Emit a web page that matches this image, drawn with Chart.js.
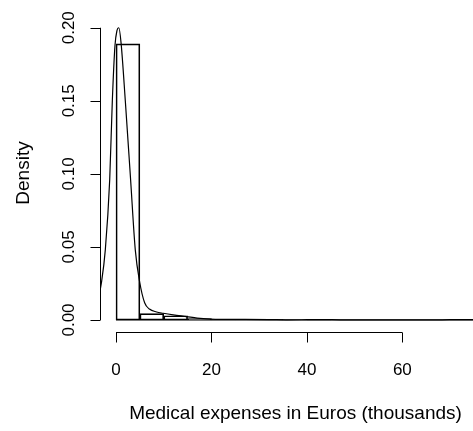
<!DOCTYPE html>
<html><head><meta charset="utf-8">
<script src="https://cdn.jsdelivr.net/npm/chart.js@4"></script>
<style>html,body{margin:0;padding:0;overflow:hidden;background:#fff;width:473px;height:431px}canvas{display:block}</style>
</head><body><canvas id="c" width="492" height="431" style="width:492px;height:431px"></canvas>
<script>
// ---- data ----
const binBreaks = [0,5,10,15,20,25,30,35,40,45,50,55,60,65,70,75];
const binDensity = [0.189,0.0044,0.0029,0.0009,0.0003,0.0003,0.0003,0,0.0003,0,0,0,0,0,0.0003];
const curveX = [-3.6,-3.08,-2.24,-1.32,-0.77,-0.21,0.2,0.6,1.05,1.95,3.04,4.04,4.96,6.0,7.0,8.5,9.9,12,14.8,17,19.7,22,27,32,36,40,43,47,55,65,70,73,76,78.6];
const curveY = [0.016,0.025,0.048,0.096,0.150,0.188,0.198,0.200,0.190,0.150,0.097,0.048,0.026,0.0118,0.0075,0.0055,0.0046,0.0035,0.0023,0.0013,0.0006,0.0004,0.0004,0.0003,0.0001,0.0002,0.0003,0.0001,0.00003,0.00003,0.0002,0.0003,0.0002,0.0001];
const xTicks = [0,20,40,60];
const xTickLabels = ['0','20','40','60'];
const yTicks = [0,0.05,0.10,0.15,0.20];
const yTickLabels = ['0.00','0.05','0.10','0.15','0.20'];
const xTitle = 'Medical expenses in Euros (thousands)';
const yTitle = 'Density';

const FONT = '"Liberation Sans", Arial, Helvetica, sans-serif';

const axesPlugin = {
  id: 'rAxes',
  afterDraw(chart) {
    const ctx = chart.ctx, xs = chart.scales.x, ys = chart.scales.y, a = chart.chartArea;
    ctx.save();
    ctx.strokeStyle = '#000'; ctx.fillStyle = '#000'; ctx.lineWidth = 1;
    // x axis
    const yAx = a.bottom - 0.5;
    const x0 = xs.getPixelForValue(xTicks[0]), x1 = xs.getPixelForValue(xTicks[xTicks.length-1]);
    ctx.beginPath();
    ctx.moveTo(x0, yAx); ctx.lineTo(x1, yAx);
    xTicks.forEach(v => { const px = Math.round(xs.getPixelForValue(v)) + 0.5; ctx.moveTo(px, yAx); ctx.lineTo(px, yAx + 10); });
    ctx.stroke();
    ctx.font = '17px ' + FONT; ctx.textAlign = 'center'; ctx.textBaseline = 'alphabetic';
    xTicks.forEach((v, i) => ctx.fillText(xTickLabels[i], xs.getPixelForValue(v), a.bottom + 42));
    // y axis
    const xAx = a.left + 0.5;
    ctx.beginPath();
    ctx.moveTo(xAx, ys.getPixelForValue(yTicks[0])); ctx.lineTo(xAx, ys.getPixelForValue(yTicks[yTicks.length-1]));
    yTicks.forEach(v => { const py = Math.round(ys.getPixelForValue(v)) + 0.5; ctx.moveTo(xAx, py); ctx.lineTo(xAx - 10, py); });
    ctx.stroke();
    yTicks.forEach((v, i) => {
      ctx.save(); ctx.translate(a.left - 26.5, ys.getPixelForValue(v)); ctx.rotate(-Math.PI/2);
      ctx.fillText(yTickLabels[i], 0, 0); ctx.restore();
    });
    // titles
    ctx.font = '19px ' + FONT;
    ctx.fillText(xTitle, (a.left + a.right) / 2, a.bottom + 86);
    ctx.save(); ctx.translate(29, (a.top + a.bottom) / 2); ctx.rotate(-Math.PI/2);
    ctx.fillText(yTitle, 0, 0); ctx.restore();
    ctx.restore();
  }
};

const barData = binDensity.map((d, i) => ({x: (binBreaks[i] + binBreaks[i+1]) / 2, y: d}));
const curveData = curveX.map((x, i) => ({x: x, y: curveY[i]}));
const baseData = [{x: binBreaks[0], y: 0}, {x: binBreaks[binBreaks.length-1], y: 0}];

new Chart(document.getElementById('c'), {
  type: 'bar',
  data: {
    datasets: [
      {type: 'bar', data: barData, backgroundColor: 'rgba(0,0,0,0)', borderColor: '#000', borderWidth: 1, borderSkipped: false, barPercentage: 1, categoryPercentage: 1, grouped: false, order: 2},
      {type: 'line', data: baseData, borderColor: '#000', borderWidth: 1, pointRadius: 0, fill: false, order: 1},
      {type: 'line', data: curveData, borderColor: '#000', borderWidth: 1.2, pointRadius: 0, fill: false, cubicInterpolationMode: 'monotone', order: 0}
    ]
  },
  options: {
    responsive: false, animation: false, events: [], devicePixelRatio: 1,
    layout: {padding: {left: 100, top: 13, right: 1, bottom: 98}},
    plugins: {legend: {display: false}, tooltip: {enabled: false}, title: {display: false}},
    scales: {
      x: {type: 'linear', display: false, min: -3.353, max: 78.58, offset: false,
          afterBuildTicks: s => { s.ticks = xTicks.map(v => ({value: v})); }},
      y: {type: 'linear', display: false, min: -0.0089, max: 0.2101,
          afterBuildTicks: s => { s.ticks = yTicks.map(v => ({value: v})); }}
    }
  },
  plugins: [axesPlugin]
});
</script></body></html>
